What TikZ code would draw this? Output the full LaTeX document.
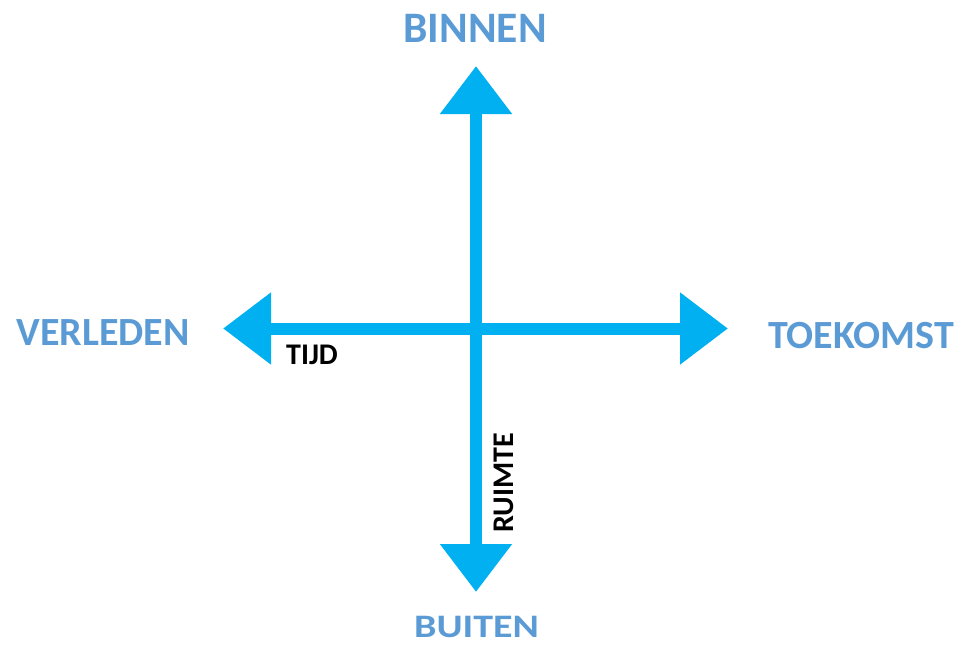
\documentclass[tikz,border=0pt]{standalone}
\usepackage{fontspec}
\setmainfont{Carlito}
\usetikzlibrary{arrows.meta}
\definecolor{arrowblue}{HTML}{00B0F0}
\definecolor{labelblue}{HTML}{5B9BD5}
\begin{document}
\begin{tikzpicture}[x=1pt,y=-1pt,
  axis/.style={draw=arrowblue,line width=12pt,
    {Triangle[length=48pt,width=69pt]}-{Triangle[length=48pt,width=69pt]}},
  pole/.style={text=labelblue,font=\bfseries\fontsize{40}{48}\selectfont,anchor=base,inner sep=0pt},
  axlabel/.style={text=black,font=\bfseries\fontsize{30}{36}\selectfont,anchor=base,inner sep=0pt}]
\useasboundingbox (0,0) rectangle (961,646);
\coordinate (top) at (476,66);
\coordinate (bottom) at (476,592);
\coordinate (left) at (223,328.5);
\coordinate (right) at (728,328.5);
\draw[axis] (left) -- (right);
\draw[axis] (bottom) -- (top);
\node[pole,font=\bfseries\fontsize{43.5}{50}\selectfont] (binnen) at (475,42) {BINNEN};
\node[pole] (buiten) at (476.5,637) {\scalebox{1}[0.82]{BUITEN}};
\node[pole] (verleden) at (103,345) {VERLEDEN};
\node[pole] (toekomst) at (861,348) {TOEKOMST};
\node[axlabel] (tijd) at (312,364) {TIJD};
\node[axlabel,rotate=90] (ruimte) at (513,482.5) {RUIMTE};
\end{tikzpicture}
\end{document}
